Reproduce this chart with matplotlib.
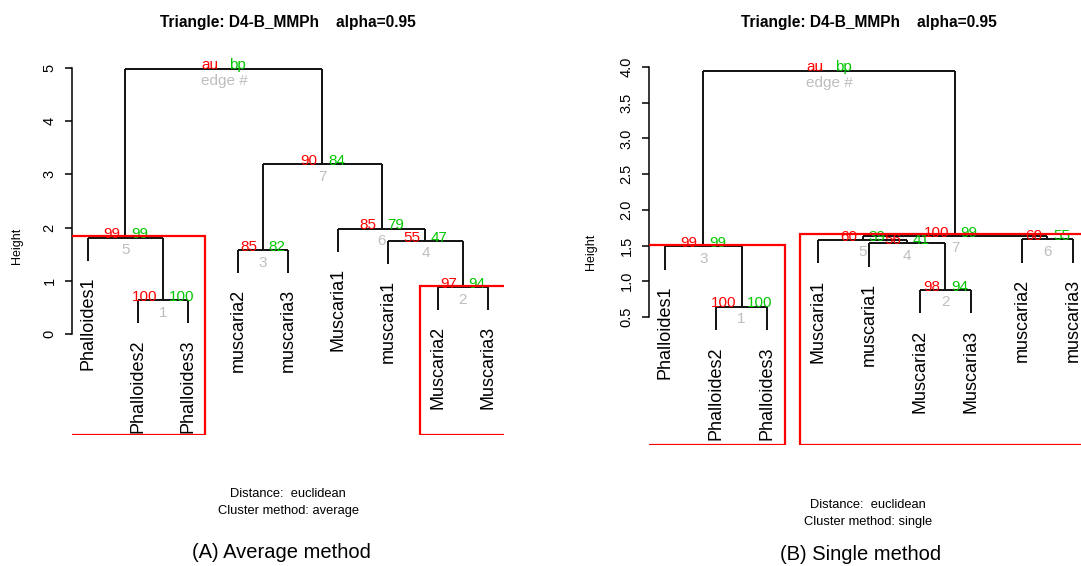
import matplotlib
matplotlib.use("Agg")
import matplotlib.pyplot as plt
from matplotlib.patches import Rectangle
from matplotlib.transforms import offset_copy

plt.rcParams['font.family'] = ['Liberation Sans', 'DejaVu Sans']

W, H = 1081, 566

# (A) average linkage -- leaves in plotted order
avg_labels = ["Phalloides1", "Phalloides2", "Phalloides3", "muscaria2", "muscaria3",
              "Muscaria1", "muscaria1", "Muscaria2", "Muscaria3"]
# negative = leaf position, positive = earlier merge (edge #)
avg_merge = [(-2, -3), (-8, -9), (-4, -5), (-7, 2), (-1, 1), (-6, 4), (3, 6), (5, 7)]
avg_height = [0.64, 0.88, 1.58, 1.75, 1.81, 1.98, 3.19, 4.99]
avg_au = [100, 97, 85, 55, 99, 85, 90]
avg_bp = [100, 94, 82, 47, 99, 79, 84]
avg_boxes = [5, 2]
avg_yticks = [0, 1, 2, 3, 4, 5]

# (B) single linkage
sgl_labels = ["Phalloides1", "Phalloides2", "Phalloides3", "Muscaria1", "muscaria1",
              "Muscaria2", "Muscaria3", "muscaria2", "muscaria3"]
sgl_merge = [(-2, -3), (-6, -7), (-1, 1), (-5, 2), (-4, 4), (-8, -9), (5, 6), (3, 7)]
sgl_height = [0.645, 0.88, 1.49, 1.53, 1.58, 1.59, 1.635, 3.95]
sgl_au = [100, 98, 99, 56, 60, 60, 100]
sgl_bp = [100, 94, 99, 41, 39, 55, 99]
sgl_boxes = [3, 7]
sgl_yticks = [0.5, 1.0, 1.5, 2.0, 2.5, 3.0, 3.5, 4.0]

RED = "#FF0000"
GREEN = "#00C800"
GREY = "#BEBEBE"
XLIM = (0.68, 9.32)

fig = plt.figure(figsize=(W / 100, H / 100), dpi=100)


def px_axes(x0, x1, y_top, y_bot):
    return fig.add_axes([x0 / W, 1 - y_bot / H, (x1 - x0) / W, (y_bot - y_top) / H])


def dendro(ax, labels, merge, height, au, bp, boxes, yticks, fmt):
    n = len(labels)
    hang = 0.1 * (max(height) - min(height))
    node_x, members = [], []
    leaf_end = [0] * n
    lw = 1.4

    for (a, b), h in zip(merge, height):
        xs, mem = [], []
        for k in (a, b):
            if k < 0:
                x, y0 = -k, h - hang
                leaf_end[-k - 1] = y0
                mem.append(-k)
            else:
                x, y0 = node_x[k - 1], height[k - 1]
                mem.extend(members[k - 1])
            ax.plot([x, x], [y0, h], color="#111111", lw=lw, solid_capstyle="butt")
            xs.append(x)
        ax.plot(xs, [h, h], color="#111111", lw=lw, solid_capstyle="butt")
        node_x.append(sum(xs) / 2)
        members.append(mem)

    # leaf labels
    down = offset_copy(ax.transData, fig=fig, x=0, y=-11.5, units="points")
    for i, lab in enumerate(labels):
        ax.text(i + 1, leaf_end[i], lab, rotation=90, ha="center", va="top",
                fontsize=13, transform=down)

    # au / bp / edge numbers
    t_au = offset_copy(ax.transData, fig=fig, x=-4.0, y=2.4, units="points")
    t_bp = offset_copy(ax.transData, fig=fig, x=4.0, y=2.4, units="points")
    t_ed = offset_copy(ax.transData, fig=fig, x=0, y=-4.0, units="points")
    au_txt = [str(v) for v in au] + ["au"]
    bp_txt = [str(v) for v in bp] + ["bp"]
    ed_txt = [str(i + 1) for i in range(len(au))] + ["edge #"]
    fs = 11
    for x, h, a, b, e in zip(node_x, height, au_txt, bp_txt, ed_txt):
        ax.text(x, h, a, color=RED, ha="right", va="center", fontsize=fs, transform=t_au)
        ax.text(x, h, b, color=GREEN, ha="left", va="center", fontsize=fs, transform=t_bp)
        ax.text(x, h, e, color=GREY, ha="center", va="top", fontsize=fs, transform=t_ed)

    # pvrect boxes (clipped to the plot region like R does)
    ybot = ax.get_ylim()[0]
    for e in boxes:
        lo, hi = min(members[e - 1]), max(members[e - 1])
        xl, xr = lo - 0.35, hi + 0.35
        if xl < XLIM[0] + 0.05:
            xl = XLIM[0] - 0.3
        if xr > XLIM[1] - 0.05:
            xr = XLIM[1] + 0.3
        top = height[e - 1] + 0.025
        ax.add_patch(Rectangle((xl, ybot), xr - xl, top - ybot,
                               fill=False, edgecolor=RED, lw=1.6, zorder=3))

    ax.set_xlim(*XLIM)
    for s in ("top", "right", "bottom"):
        ax.spines[s].set_visible(False)
    ax.spines["left"].set_bounds(yticks[0], yticks[-1])
    ax.spines["left"].set_linewidth(1.1)
    ax.set_xticks([])
    ax.set_yticks(yticks)
    ax.set_yticklabels([fmt.format(v) for v in yticks], rotation=90, va="center")
    ax.tick_params(axis="y", length=5, width=1.1, pad=6, labelsize=10.5)
    ax.patch.set_alpha(0)


axA = px_axes(72, 504, 58, 435)
axA.set_ylim(-1.898, 5.188)
dendro(axA, avg_labels, avg_merge, avg_height, avg_au, avg_bp, avg_boxes, avg_yticks, "{:.0f}")

axB = px_axes(648.7, 1089.3, 57, 445)
axB.set_ylim(-1.292, 4.14)
dendro(axB, sgl_labels, sgl_merge, sgl_height, sgl_au, sgl_bp, sgl_boxes, sgl_yticks, "{:.1f}")

# titles and captions
title = "Triangle: D4-B_MMPh    alpha=0.95"
fig.text(288 / W, 1 - 22 / H, title, ha="center", va="center", fontsize=11.2, fontweight="bold")
fig.text(869 / W, 1 - 22 / H, title, ha="center", va="center", fontsize=11.2, fontweight="bold")

fig.text(17 / W, 1 - 246 / H, "Height", rotation=90, ha="center", va="center", fontsize=9)
fig.text(591 / W, 1 - 252 / H, "Height", rotation=90, ha="center", va="center", fontsize=9)

fig.text(288 / W, 1 - 494 / H, "Distance:  euclidean", ha="center", va="center", fontsize=9.3)
fig.text(288 / W, 1 - 511 / H, "Cluster method: average", ha="center", va="center", fontsize=9.3)
fig.text(868 / W, 1 - 505 / H, "Distance:  euclidean", ha="center", va="center", fontsize=9.3)
fig.text(868 / W, 1 - 522 / H, "Cluster method: single", ha="center", va="center", fontsize=9.3)

fig.text(281 / W, 1 - 553 / H, "(A) Average method", ha="center", va="center", fontsize=14.5)
fig.text(861 / W, 1 - 555 / H, "(B) Single method", ha="center", va="center", fontsize=14.5)

fig.savefig("out.png", dpi=100)
